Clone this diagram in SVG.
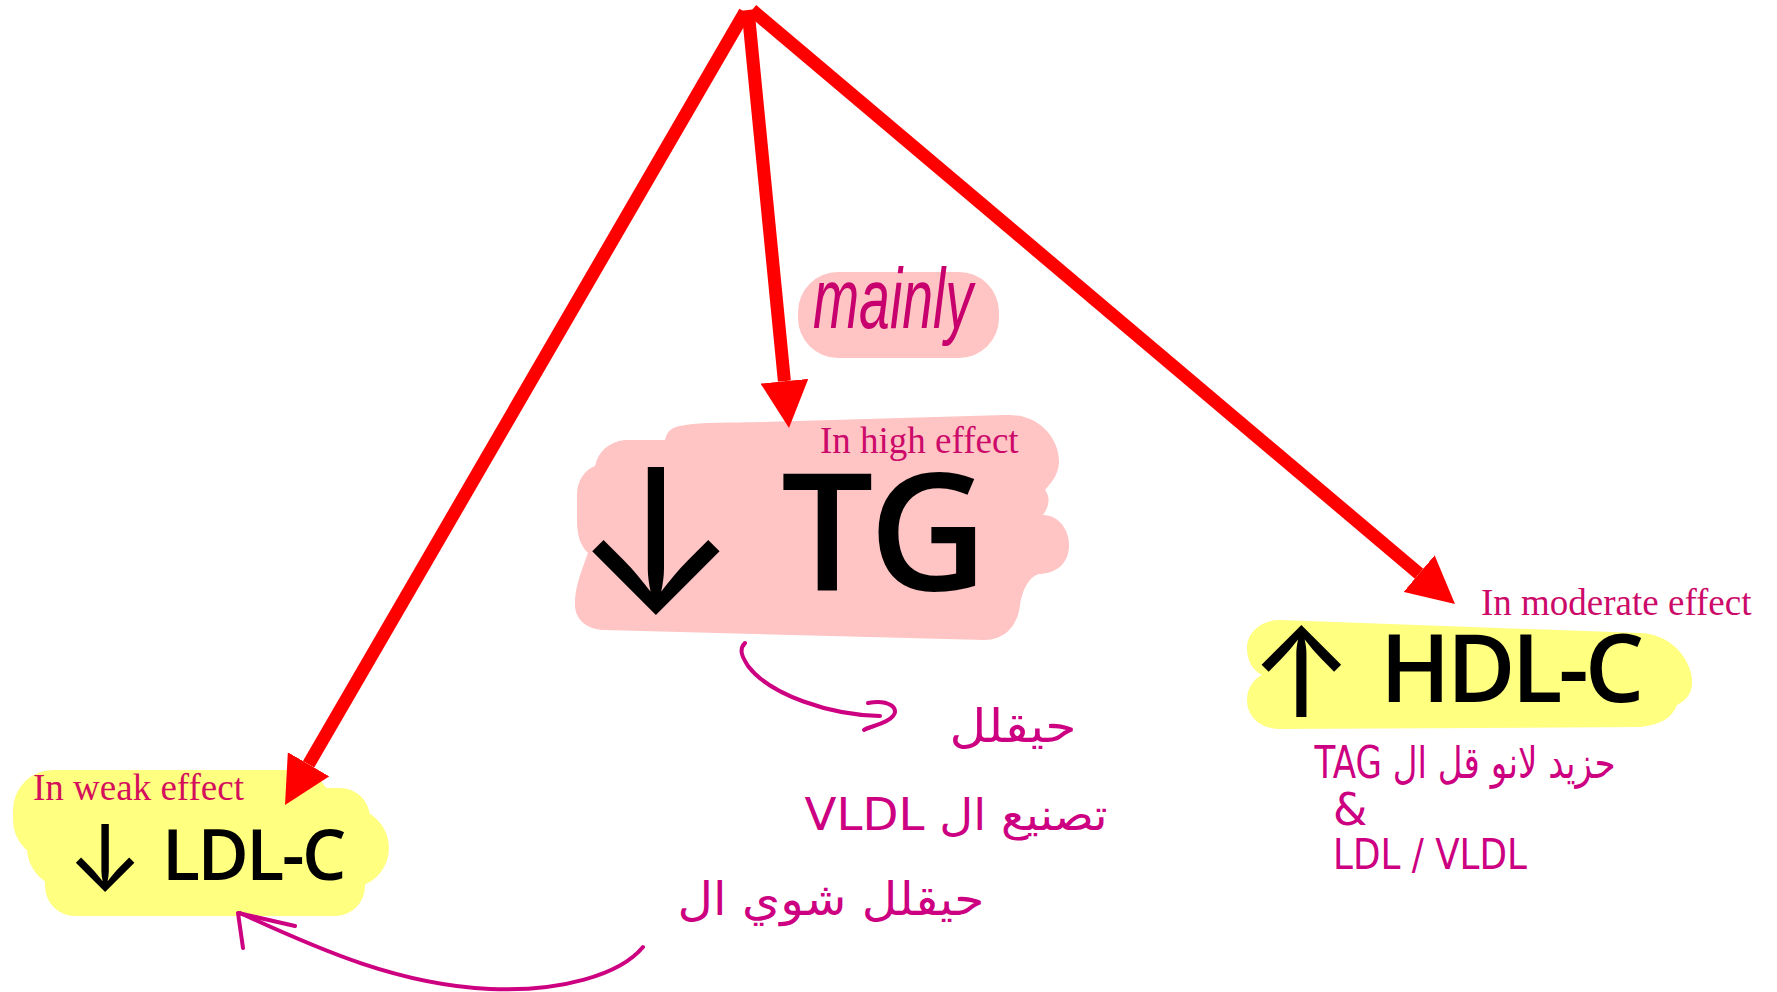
<svg xmlns="http://www.w3.org/2000/svg" width="1777" height="992" viewBox="0 0 1777 992">
<defs>
<style>
.pink{fill:#ffc4c4}
.yel{fill:#ffff80}
.big{font-family:"Open Sans","Noto Sans",sans-serif;font-weight:600;fill:#000}
.arw{font-family:Inter,"Noto Sans CJK SC",sans-serif;font-weight:400;fill:#000}
.lbl{font-family:"Liberation Serif","Times New Roman",serif;font-size:37px;fill:#cc0a6a}
.hand{font-family:"DejaVu Sans","Noto Sans",sans-serif;fill:#cc0080}
.red{stroke:#ff0000;stroke-width:13;fill:none;marker-end:url(#rh)}
.pen{stroke:#cc0080;stroke-width:4;fill:none;stroke-linecap:round;stroke-linejoin:round}
</style>
<marker id="rh" markerUnits="userSpaceOnUse" markerWidth="48" markerHeight="48" viewBox="0 0 48 48" refX="0" refY="24" orient="auto">
<path d="M0,0 L47,24 L0,48 Z" fill="#ff0000"/>
</marker>
</defs>
<rect width="1777" height="992" fill="#ffffff"/>

<g id="node-mainly">
<rect class="pink" x="798" y="272" width="201" height="86" rx="40"/>
<text class="hand" x="813" y="328" font-size="85" font-style="italic" textLength="160" lengthAdjust="spacingAndGlyphs" style="font-family:'Liberation Sans',sans-serif;fill:#c8006e">mainly</text>
</g>

<g id="node-tg">
<path class="pink" d="M680,426 C700,422 720,423 760,422 L1005,415 C1040,413 1060,440 1059,463 C1058,476 1050,484 1045,490 C1050,496 1050,505 1043,515 C1060,515 1070,532 1069,547 C1068,565 1055,573 1040,574 C1030,575 1022,590 1020,605 C1018,625 1005,640 985,640 L605,630 C588,630 575,620 575,605 C575,590 578,580 588,553 C580,545 577,535 577,520 L577,495 C577,480 585,470 595,466 C598,452 608,442 625,440 L665,440 C667,432 670,428 680,426 Z"/>
<text class="lbl" x="820" y="453">In high effect</text>
<text class="big"><tspan class="arw" x="684" y="613" text-anchor="middle" font-size="200">↓ </tspan><tspan x="781" y="590" font-size="164" letter-spacing="-5">TG</tspan></text>
</g>

<g id="node-ldl">
<rect class="yel" x="13" y="770" width="320" height="90" rx="40"/>
<rect class="yel" x="27" y="808" width="362" height="80" rx="40"/>
<rect class="yel" x="45" y="850" width="320" height="66" rx="30"/>
<rect class="yel" x="250" y="788" width="120" height="60" rx="30"/>
<text class="lbl" x="33" y="800" style="fill:#d4105c">In weak effect</text>
<text class="big"><tspan class="arw" x="118" y="891" text-anchor="middle" font-size="92">↓ </tspan><tspan x="162" y="880" font-size="70" letter-spacing="-2.5">LDL-C</tspan></text>
</g>

<g id="node-hdl">
<path class="yel" d="M1280,620 L1640,633 C1665,634 1685,650 1691,673 C1695,690 1688,700 1677,705 C1672,718 1660,725 1640,727 L1280,729 C1260,729 1247,716 1247,700 C1247,690 1252,680 1262,675 C1252,670 1247,660 1247,648 C1247,632 1262,620 1280,620 Z"/>
<text class="lbl" x="1481" y="615">In moderate effect</text>
<text class="big"><tspan class="arw" x="1319" y="717" text-anchor="middle" font-size="125">↑ </tspan><tspan x="1380" y="702" font-size="94" letter-spacing="-4">HDL-C</tspan></text>
</g>

<g id="note-tg">
<text class="hand" x="1013" y="742" font-size="46" text-anchor="middle" direction="rtl" textLength="127" lengthAdjust="spacingAndGlyphs">حيقلل</text>
<text class="hand" x="956" y="830" font-size="44" text-anchor="middle" direction="rtl" textLength="303" lengthAdjust="spacingAndGlyphs">تصنيع ال VLDL</text>
<text class="hand" x="831" y="915" font-size="46" text-anchor="middle" direction="rtl" textLength="307" lengthAdjust="spacingAndGlyphs">حيقلل شوي ال</text>
</g>

<g id="note-hdl">
<text class="hand" x="1465" y="778" font-size="44" text-anchor="middle" direction="rtl" textLength="301" lengthAdjust="spacingAndGlyphs">حزيد لانو قل ال TAG</text>
<text class="hand" x="1333" y="825" font-size="44">&amp;</text>
<text class="hand" x="1333" y="869" font-size="42" textLength="194" lengthAdjust="spacingAndGlyphs">LDL / VLDL</text>
</g>

<g id="connectors">
<path class="red" d="M745,12 L308.6,764.3"/>
<path class="red" d="M748,10 L784.4,381.2"/>
<path class="red" d="M752,10 L1419.1,573.7"/>
<path class="pen" d="M745,643 C738,650 743,658 748,666 C770,695 830,715 880,716"/>
<path class="pen" d="M868,703 C888,699 900,708 893,716 C887,724 870,726 864,730"/>
<path class="pen" d="M643,947 C620,975 560,992 490,989 C400,985 320,950 240,913"/>
<path class="pen" d="M295,926 L238,913 L243,948"/>
</g>
</svg>
